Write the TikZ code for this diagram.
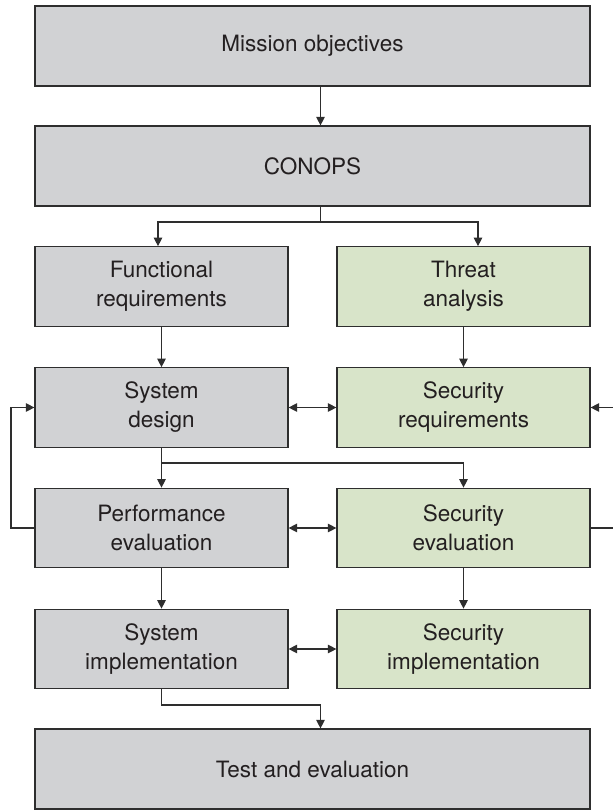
\documentclass[tikz,border=0pt]{standalone}
\usepackage{fontspec}
\setmainfont{TeX Gyre Heros}
\usetikzlibrary{arrows.meta}
\definecolor{boxgrey}{HTML}{D1D2D4}
\definecolor{boxgreen}{HTML}{D8E4C9}
\definecolor{edgec}{HTML}{2E2E2E}
\definecolor{textc}{HTML}{231F20}
\begin{document}
\begin{tikzpicture}[x=1pt,y=-1pt,
  box/.style={draw=edgec, line width=1.2pt, inner sep=0pt, align=center, text=textc,
    font=\fontsize{22.5}{29}\selectfont},
  widebox/.style={box, fill=boxgrey, minimum width=555pt, minimum height=80pt},
  greybox/.style={box, fill=boxgrey, minimum width=253pt, minimum height=79.5pt},
  greenbox/.style={box, fill=boxgreen, minimum width=253pt, minimum height=79.5pt},
  conn/.style={draw=edgec, line width=1.15pt},
  arr/.style={conn, -{Triangle[length=8.5pt,width=8.5pt]}},
  biarr/.style={conn, {Triangle[length=8.5pt,width=8.5pt]}-{Triangle[length=8.5pt,width=8.5pt]}}]
\useasboundingbox (0,0) rectangle (613,812);
\clip (0,0) rectangle (613,812);
\node[widebox] (mission) at (312.5,46) {Mission objectives};
\node[widebox] (conops) at (312.5,166) {CONOPS};
\node[greybox] (func) at (161.5,286.5) {Functional\\requirements};
\node[greenbox] (threat) at (463.5,286.5) {Threat\\analysis};
\node[greybox] (sysdes) at (161.5,407.5) {System\\design};
\node[greenbox] (secreq) at (463.5,407.5) {Security\\requirements};
\node[greybox] (perf) at (161.5,528) {Performance\\evaluation};
\node[greenbox] (seceval) at (463.5,528) {Security\\evaluation};
\node[greybox] (sysimp) at (161.5,649) {System\\implementation};
\node[greenbox] (secimp) at (463.5,649) {Security\\implementation};
\node[widebox] (test) at (312.5,769) {Test and evaluation};
\coordinate (midx) at (320.5,0);
\coordinate (fl) at (158,0);
\coordinate (tr) at (478,0);
\coordinate (split1) at (0,222);
\coordinate (split2) at (0,463);
\coordinate (split3) at (0,705);
\coordinate (lx) at (11,0);
\coordinate (rx) at (630,0);
\draw[arr] (mission.south -| midx) -- (conops.north -| midx);
\draw[arr] (conops.south -| midx) |- (split1 -| fl) -- (func.north -| fl);
\draw[arr] (conops.south -| midx) |- (split1 -| tr) -- (threat.north -| tr);
\draw[arr] (func.south) -- (sysdes.north);
\draw[arr] (threat.south) -- (secreq.north);
\draw[biarr] (sysdes.east) -- (secreq.west);
\draw[arr] (sysdes.south) -- (perf.north);
\draw[arr] (sysdes.south) |- (split2 -| seceval) -- (seceval.north);
\draw[biarr] (perf.east) -- (seceval.west);
\draw[arr] (perf.south) -- (sysimp.north);
\draw[arr] (seceval.south) -- (secimp.north);
\draw[biarr] (sysimp.east) -- (secimp.west);
\draw[arr] (perf.west) -- (perf.west -| lx) |- (sysdes.west);
\draw[arr] (seceval.east) -- (seceval.east -| rx) |- (secreq.east);
\draw[arr] (sysimp.south) |- (split3 -| midx) -- (test.north -| midx);
\end{tikzpicture}
\end{document}
